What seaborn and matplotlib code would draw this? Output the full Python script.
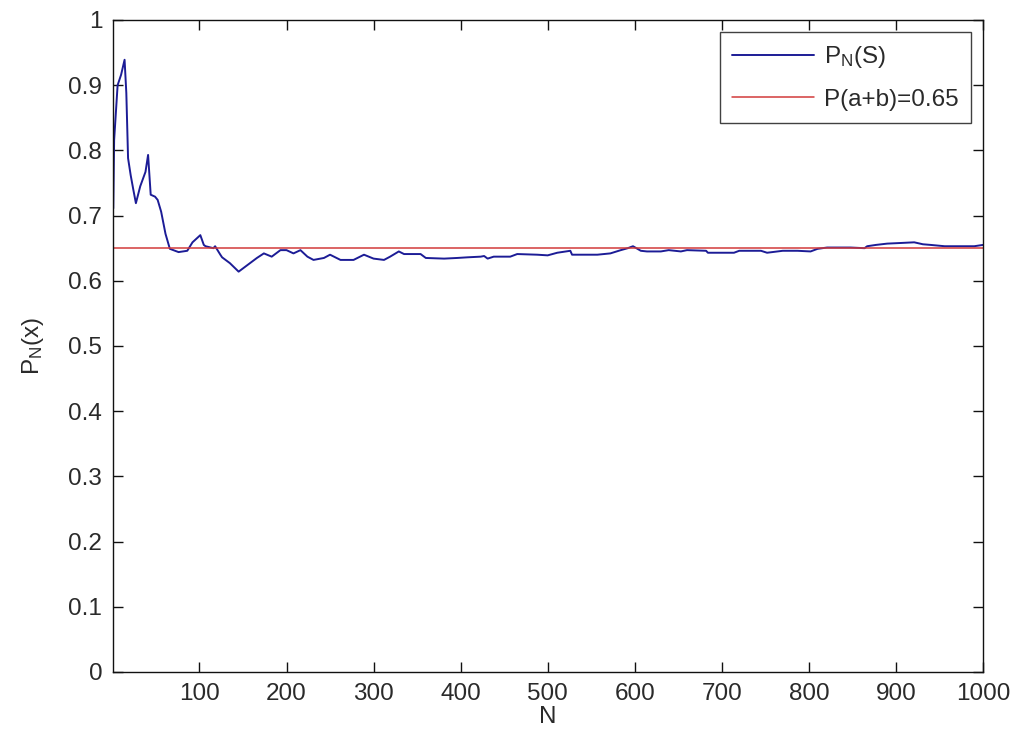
import matplotlib
matplotlib.use("Agg")
import matplotlib.pyplot as plt
import seaborn as sns
import pandas as pd

# Running relative frequency P_N(S) after N trials
n_trials = [1, 2, 6, 10, 14, 16, 18, 21, 24, 27, 32, 38, 41, 44, 49, 52, 56, 61, 66,
            76, 86, 92, 101, 105, 107, 116, 118, 124, 126, 135, 145, 155, 166, 174,
            183, 193, 200, 208, 216, 224, 231, 243, 250, 262, 277, 289, 300, 312,
            319, 329, 335, 354, 360, 381, 396, 408, 423, 427, 431, 438, 457, 465,
            488, 500, 511, 526, 528, 557, 572, 584, 592, 598, 607, 614, 630, 639,
            653, 660, 682, 684, 714, 720, 745, 752, 770, 787, 802, 810, 821, 848,
            864, 867, 877, 890, 906, 921, 931, 940, 956, 990, 1000]
p_running = [0.711, 0.816, 0.900, 0.916, 0.939, 0.888, 0.788, 0.762, 0.740, 0.719,
             0.745, 0.767, 0.793, 0.732, 0.729, 0.724, 0.706, 0.672, 0.649,
             0.644, 0.646, 0.659, 0.670, 0.655, 0.653, 0.650, 0.653, 0.640, 0.636,
             0.627, 0.614, 0.624, 0.635, 0.642, 0.637, 0.647, 0.647, 0.642, 0.647,
             0.637, 0.632, 0.635, 0.640, 0.632, 0.632, 0.640, 0.634, 0.632, 0.637,
             0.645, 0.641, 0.641, 0.635, 0.634, 0.635, 0.636, 0.637, 0.638, 0.634,
             0.637, 0.637, 0.641, 0.640, 0.639, 0.643, 0.646, 0.640, 0.640, 0.642,
             0.647, 0.650, 0.653, 0.646, 0.645, 0.645, 0.647, 0.645, 0.647, 0.646,
             0.643, 0.643, 0.646, 0.646, 0.643, 0.646, 0.646, 0.645, 0.649, 0.651,
             0.651, 0.650, 0.653, 0.655, 0.657, 0.658, 0.659, 0.656, 0.655, 0.653,
             0.653, 0.655]

p_exact = 0.65
series_label = "P$_N$(S)"
exact_label = "P(a+b)=0.65"

x_ticks = [100, 200, 300, 400, 500, 600, 700, 800, 900, 1000]
y_ticks = [0, 0.1, 0.2, 0.3, 0.4, 0.5, 0.6, 0.7, 0.8, 0.9, 1]
y_tick_labels = ["0", "0.1", "0.2", "0.3", "0.4", "0.5", "0.6", "0.7", "0.8", "0.9", "1"]

sns.set_style("ticks")
plt.rcParams["font.family"] = ["Liberation Sans", "DejaVu Sans"]
plt.rcParams["mathtext.default"] = "regular"
text_color = "#2a2a2a"
fs = 17.5

df = pd.DataFrame({"N": n_trials, "P": p_running})

fig = plt.figure(figsize=(10.14, 7.37), dpi=100)
ax = fig.add_axes([0.1117, 0.0882, 0.8577, 0.8847])

sns.lineplot(data=df, x="N", y="P", ax=ax, color="#1c1c96", linewidth=1.4,
             label=series_label, estimator=None, sort=False)
ax.axhline(p_exact, color="#d23a3a", linewidth=1.1, label=exact_label)

ax.set_xlim(1, 1000)
ax.set_ylim(0, 1)
ax.set_xticks(x_ticks)
ax.set_xticklabels([str(t) for t in x_ticks])
ax.set_yticks(y_ticks)
ax.set_yticklabels(y_tick_labels)

ax.tick_params(direction="in", length=7, width=1, top=True, right=True,
               labelsize=fs, colors="#111111", labelcolor=text_color, pad=8)
for side in ["top", "right", "bottom", "left"]:
    ax.spines[side].set_visible(True)
    ax.spines[side].set_color("#111111")
    ax.spines[side].set_linewidth(1.0)

ax.set_xlabel("N", fontsize=fs, color=text_color, labelpad=1)
ax.set_ylabel("P$_N$(x)", fontsize=fs, color=text_color, labelpad=16)

leg = ax.legend(loc="upper right", fontsize=fs, frameon=True, fancybox=False,
                handlelength=3.4, borderaxespad=0.5, borderpad=0.5,
                labelspacing=0.75, handletextpad=0.4)
leg.get_frame().set_edgecolor("#111111")
leg.get_frame().set_linewidth(1.0)
for t in leg.get_texts():
    t.set_color(text_color)

fig.savefig("out.png", dpi=100, facecolor="white")
